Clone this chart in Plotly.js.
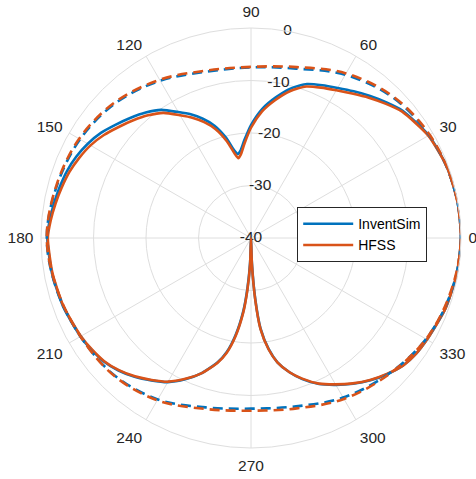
<!DOCTYPE html>
<html>
<head>
<meta charset="utf-8">
<script src="https://cdn.plot.ly/plotly-3.0.1.min.js"></script>
<style>html,body{margin:0;padding:0;background:#fff;}#chart{width:476px;height:479px;}</style>
</head>
<body>
<div id="chart"></div>
<script>
// Angles (degrees) for the solid cuts
var thetaSolid = [0,10,20,30,40,45,50,55,60,65,70,75,80,85,90,94,97,99,101,104,108,112,116,120,125,130,135,140,145,150,155,160,165,170,175,180,190,200,210,215,220,225,230,235,240,245,250,255,258,261,264,266,268,270,272,274,276,279,282,286,290,295,300,305,310,315,320,325,330,340,350,360];
// HFSS solid (dB)
var hfssSolid = [0,-0.05,-0.3,-1.0,-2.5,-3.8,-5.1,-6.4,-7.5,-8.4,-9.3,-11.0,-13.3,-15.8,-19.0,-22.0,-24.0,-24.6,-23.6,-21.0,-18.2,-16.2,-14.5,-13.0,-10.9,-9.5,-8.3,-7.1,-5.8,-4.7,-3.9,-3.2,-2.7,-2.2,-1.7,-1.3,-1.6,-2.0,-2.6,-3.0,-3.5,-4.4,-5.6,-7.0,-8.4,-10.4,-12.6,-15.4,-17.6,-21.0,-25.6,-30.0,-35.0,-40.0,-35.0,-28.0,-22.5,-18.5,-15.8,-13.4,-11.5,-9.4,-7.8,-6.2,-4.7,-3.4,-2.2,-1.6,-1.3,-0.6,-0.2,0];
// InventSim solid (dB)
var inventSolid = [0,-0.05,-0.3,-0.9,-2.3,-3.5,-4.7,-5.9,-7.0,-7.9,-8.8,-10.5,-12.8,-15.3,-18.5,-21.4,-23.3,-23.8,-22.9,-20.3,-17.5,-15.5,-13.8,-12.3,-10.2,-8.8,-7.6,-6.4,-5.1,-4.1,-3.3,-2.7,-2.3,-1.9,-1.5,-1.2,-1.5,-1.9,-2.5,-2.9,-3.4,-4.3,-5.5,-6.9,-8.3,-10.3,-12.6,-15.5,-17.8,-21.3,-26.0,-30.5,-35.5,-40.0,-35.5,-28.3,-22.7,-18.6,-15.8,-13.4,-11.4,-9.3,-7.7,-6.1,-4.6,-3.3,-2.2,-1.6,-1.3,-0.6,-0.2,0];
// Angles (degrees) for the dashed cuts
var thetaDashed = [0,15,30,45,60,75,90,105,120,135,150,165,180,195,210,225,240,255,270,285,300,315,330,345,360];
// HFSS dashed (dB)
var hfssDashed = [0,-0.2,-0.7,-1.8,-3.8,-6.3,-7.4,-7.0,-5.2,-3.4,-2.2,-1.6,-1.1,-1.8,-2.5,-3.0,-4.3,-6.3,-7.1,-6.4,-4.6,-3.1,-1.5,-0.6,0];
// InventSim dashed (dB)
var inventDashed = [0,-0.2,-0.8,-2.0,-4.1,-6.6,-7.5,-7.2,-5.4,-3.6,-2.4,-1.7,-1.1,-1.7,-2.5,-3.1,-4.5,-6.6,-7.5,-6.8,-4.9,-3.2,-1.5,-0.5,0];

var seriesNames = ['InventSim','HFSS'];
var blue = '#0072BD', orange = '#D95319';
var angTicks = [0,30,60,90,120,150,180,210,240,270,300,330];
var radTicks = [-40,-30,-20,-10,0];
var radTickLabels = ['-40','-30','-20','-10','0'];
var radLabelAngle = 80;

var traces = [
  {type:'scatterpolar', mode:'text', showlegend:false, hoverinfo:'skip', cliponaxis:false,
   r:radTicks, theta:radTicks.map(function(){return radLabelAngle;}), text:radTickLabels,
   textposition:'middle center', textfont:{size:15.5, color:'#262626'}},
  {type:'scatterpolar', mode:'lines', name:seriesNames[0], r:inventSolid, theta:thetaSolid, line:{color:blue,width:2.6,shape:'spline',smoothing:0.6}},
  {type:'scatterpolar', mode:'lines', name:seriesNames[1], r:hfssSolid, theta:thetaSolid, line:{color:orange,width:2.6,shape:'spline',smoothing:0.6}},
  {type:'scatterpolar', mode:'lines', name:seriesNames[0]+' (dashed)', showlegend:false, r:inventDashed, theta:thetaDashed, line:{color:blue,width:2.6,dash:'10px,6px',shape:'spline'}},
  {type:'scatterpolar', mode:'lines', name:seriesNames[1]+' (dashed)', showlegend:false, r:hfssDashed, theta:thetaDashed, line:{color:orange,width:2.6,dash:'10px,6px',shape:'spline'}}
];

var grid = '#dedede';
var layout = {
  width:476, height:479,
  margin:{l:41, r:15, t:28, b:31},
  paper_bgcolor:'#ffffff',
  font:{family:'"Liberation Sans", Arial, sans-serif', size:15.5, color:'#262626'},
  showlegend:true,
  legend:{x:0.61, y:0.508, xanchor:'left', yanchor:'middle', itemwidth:50, bgcolor:'#ffffff', bordercolor:'#262626', borderwidth:1, font:{size:14, color:'#000000'}},
  polar:{
    domain:{x:[0,1], y:[0,1]},
    bgcolor:'#ffffff',
    radialaxis:{range:[-40,0], tickvals:radTicks, showticklabels:false, ticks:'', angle:radLabelAngle, showline:false, gridcolor:grid, gridwidth:1},
    angularaxis:{rotation:0, direction:'counterclockwise', tickvals:angTicks, ticks:'outside', ticklen:4, tickcolor:'rgba(0,0,0,0)', showline:true, linecolor:grid, linewidth:1, gridcolor:grid, gridwidth:1, tickfont:{size:15.5, color:'#262626'}}
  }
};
Plotly.newPlot('chart', traces, layout, {displayModeBar:false, staticPlot:true});
</script>
</body>
</html>
